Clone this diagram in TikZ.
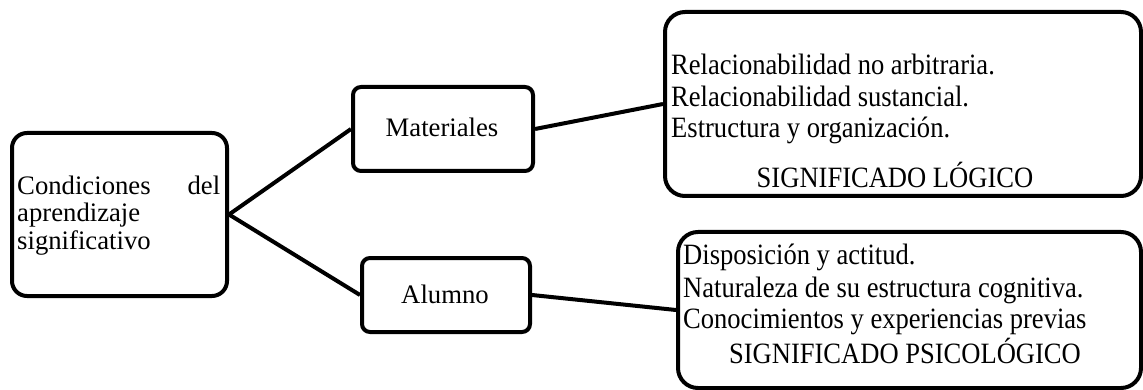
\documentclass[tikz,border=0pt]{standalone}
\usepackage{graphicx}
\usepackage{fontspec}
\setmainfont{Liberation Serif}
\newcommand{\cond}[1]{\scalebox{0.9}[1]{#1}}
\begin{document}
\begin{tikzpicture}[x=1pt,y=-1pt,
  box/.style={draw=black, line width=4pt, fill=white, inner sep=0pt, rectangle},
  link/.style={draw=black, line width=4pt},
  txt/.style={inner sep=0pt, font=\fontsize{26.7}{28}\selectfont},
  rtxt/.style={inner sep=0pt, font=\fontsize{29.5}{30}\selectfont}]
\useasboundingbox (0,0) rectangle (1143,390);
% boxes
\node[box, rounded corners=15pt, minimum width=215pt, minimum height=163pt] (cond) at (119.5,214.5) {};
\node[box, rounded corners=8pt, minimum width=180pt, minimum height=84pt] (mat) at (443,129) {};
\node[box, rounded corners=8pt, minimum width=168pt, minimum height=74pt] (alu) at (446,295) {};
\node[box, rounded corners=20pt, minimum width=476pt, minimum height=184pt] (log) at (903,104) {};
\node[box, rounded corners=20pt, minimum width=463pt, minimum height=156pt] (psi) at (909.5,310) {};
% connectors
\draw[link] (cond.east) -- (mat.west);
\draw[link] (cond.east) -- (alu.west);
\draw[link] (mat.east) -- (log.west);
\draw[link] (alu.east) -- (psi.west);
% texts
\node[txt, anchor=base west] (c1) at (17,195) {\makebox[203pt][s]{Condiciones\hfill del}};
\node[txt, anchor=base west] (c2) at (17,222) {aprendizaje};
\node[txt, anchor=base west] (c3) at (17,249) {significativo};
\node[txt, anchor=base] (tmat) at (442,137) {Materiales};
\node[txt, anchor=base] (talu) at (445,303) {Alumno};
\node[rtxt, anchor=base west] (l1) at (671,75) {\cond{Relacionabilidad no arbitraria.}};
\node[rtxt, anchor=base west] (l2) at (671,107) {\cond{Relacionabilidad sustancial.}};
\node[rtxt, anchor=base west] (l3) at (671,138) {\cond{Estructura y organización.}};
\node[rtxt, anchor=base] (l4) at (895,188) {\cond{SIGNIFICADO LÓGICO}};
\node[rtxt, anchor=base west] (p1) at (683,265) {\cond{Disposición y actitud.}};
\node[rtxt, anchor=base west] (p2) at (683,297) {\cond{Naturaleza de su estructura cognitiva.}};
\node[rtxt, anchor=base west] (p3) at (683,328) {\cond{Conocimientos y experiencias previas}};
\node[rtxt, anchor=base] (p4) at (905,363) {\cond{SIGNIFICADO PSICOLÓGICO}};
\end{tikzpicture}
\end{document}
